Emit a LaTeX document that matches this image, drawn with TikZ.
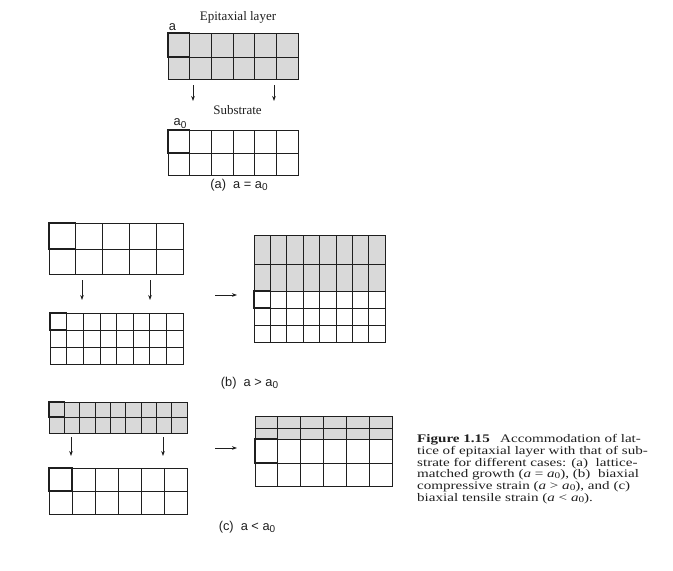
\documentclass[tikz,border=0pt]{standalone}
\usepackage{fontspec}
\setmainfont{Liberation Serif}
\setsansfont{Liberation Sans}
\newfontfamily\capfont[FakeStretch=1.3]{Liberation Serif}
\usetikzlibrary{arrows.meta}
\definecolor{epi}{gray}{0.85}
\definecolor{ink}{gray}{0.12}
\newcommand\zs{\raisebox{-2.6pt}{\fontsize{10}{10}\selectfont 0}}
\newcommand\zc{\raisebox{-1pt}{\fontsize{8.7}{8.7}\selectfont 0}}
\newcommand\latgrid[6]{%
  \draw[cell] (#1,#3) rectangle (#2,#4);
  \pgfmathsetmacro\gdx{(#2-#1)/#5}
  \foreach \k in {1,...,#5} {\draw[cell] ({#1+\k*\gdx},#3) -- ({#1+\k*\gdx},#4);}
  \foreach \yy in {#6} {\draw[cell] (#1,\yy) -- (#2,\yy);}
}
\begin{document}
\begin{tikzpicture}[x=1pt,y=-1pt,
  cell/.style={draw=ink,line width=0.7pt},
  heavy/.style={draw=ink,line width=1.25pt},
  iface/.style={draw=ink,line width=1.0pt},
  arr/.style={draw=ink,line width=0.7pt,-{Stealth[length=5pt,width=3.6pt]}},
  lab/.style={font=\sffamily\fontsize{12.8}{15}\selectfont,inner sep=0pt,text=ink},
  ser/.style={font=\fontsize{13}{15}\selectfont,inner sep=0pt,text=ink},
  capline/.style={font=\capfont\fontsize{11.6}{12}\selectfont,inner sep=0pt,anchor=base west,text=ink}]
\useasboundingbox (0,0) rectangle (673,571);

% ---------- (a) ----------
\fill[epi] (168,33) rectangle (298,79);
\latgrid{168}{298}{33}{79}{6}{57}
\draw[heavy] (168,33) rectangle (189.67,57);
\node[ser] (epilab) at (238,17) {Epitaxial layer};
\node[lab] (alab) at (172.5,27) {a};
\coordinate (a1s) at (193,85); \coordinate (a1e) at (193,101);
\coordinate (a2s) at (274,85); \coordinate (a2e) at (274,101);
\draw[arr] (a1s) -- (a1e);
\draw[arr] (a2s) -- (a2e);
\node[ser] (sublab) at (237.5,110) {Substrate};
\latgrid{168}{298}{130}{175}{6}{153}
\draw[heavy] (168,130) rectangle (189.67,153);
\node[lab] (a0lab) at (180,123.5) {a\zs};
\node[lab] (capa) at (239,185) {(a)\ \ a = a\zs};

% ---------- (b) ----------
\latgrid{49}{183}{223}{274}{5}{249}
\draw[heavy] (49,223) rectangle (75.8,249);
\coordinate (b1s) at (82,280); \coordinate (b1e) at (82,300);
\coordinate (b2s) at (150,280); \coordinate (b2e) at (150,300);
\draw[arr] (b1s) -- (b1e);
\draw[arr] (b2s) -- (b2e);
\latgrid{50}{183}{313}{364}{8}{330,347}
\draw[heavy] (50,313) rectangle (66.6,330);
\fill[epi] (254,235) rectangle (385,291);
\latgrid{254}{385}{235}{342}{8}{264,291,308,325}
\draw[iface] (254,264) -- (385,264);
\draw[iface] (254,291) -- (385,291);
\draw[heavy] (254,291) rectangle (270.4,308);
\coordinate (bhs) at (215,295); \coordinate (bhe) at (237,295);
\draw[arr] (bhs) -- (bhe);
\node[lab] (capb) at (249.5,383) {(b)\ \ a > a\zs};

% ---------- (c) ----------
\fill[epi] (49,402) rectangle (187,433);
\latgrid{49}{187}{402}{433}{9}{417}
\draw[heavy] (49,402) rectangle (64.3,417);
\coordinate (c1s) at (71,437); \coordinate (c1e) at (71,456);
\coordinate (c2s) at (163,437); \coordinate (c2e) at (163,456);
\draw[arr] (c1s) -- (c1e);
\draw[arr] (c2s) -- (c2e);
\latgrid{49}{187}{468}{514}{6}{491}
\draw[heavy] (49,468) rectangle (72,491);
\fill[epi] (255,416) rectangle (392,439);
\latgrid{255}{392}{416}{486}{6}{428,439,463}
\draw[iface] (255,439) -- (392,439);
\draw[heavy] (255,439) rectangle (277.8,463);
\coordinate (chs) at (215,448); \coordinate (che) at (237,448);
\draw[arr] (chs) -- (che);
\node[lab] (capc) at (247,527) {(c)\ \ a < a\zs};

% ---------- caption ----------
\node[capline] (cap1) at (417,442.7) {\textbf{Figure 1.15}\hspace{0.9em}Accommodation of lat-};
\node[capline] (cap2) at (417,454.4) {tice of epitaxial layer with that of sub-};
\node[capline] (cap3) at (417,466.1) {strate for different cases: (a)\ \ lattice-};
\node[capline] (cap4) at (417,477.8) {matched growth (\textit{a} = \textit{a}\zc), (b)\ \ biaxial};
\node[capline] (cap5) at (417,489.5) {compressive strain (\textit{a} > \textit{a}\zc), and (c)};
\node[capline] (cap6) at (417,501.2) {biaxial tensile strain (\textit{a} < \textit{a}\zc).};
\end{tikzpicture}
\end{document}
